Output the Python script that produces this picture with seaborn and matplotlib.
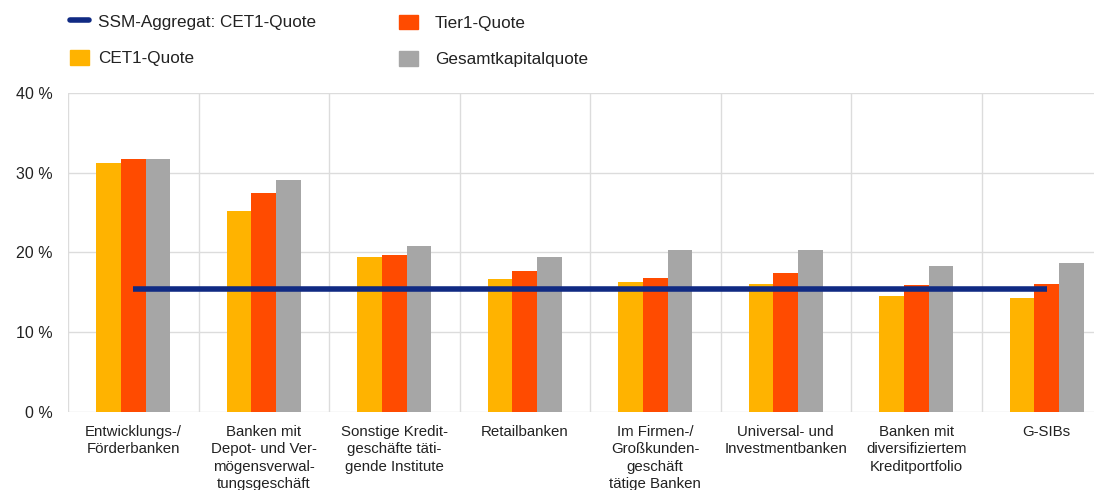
import matplotlib
matplotlib.use("Agg")
import matplotlib.pyplot as plt
from matplotlib.lines import Line2D
from matplotlib.patches import Patch
from matplotlib.ticker import FuncFormatter, MultipleLocator
import pandas as pd
import seaborn as sns

categories = [
    "Entwicklungs-/\nFörderbanken",
    "Banken mit\nDepot- und Ver-\nmögensverwal-\ntungsgeschäft",
    "Sonstige Kredit-\ngeschäfte täti-\ngende Institute",
    "Retailbanken",
    "Im Firmen-/\nGroßkunden-\ngeschäft\ntätige Banken",
    "Universal- und\nInvestmentbanken",
    "Banken mit\ndiversifiziertem\nKreditportfolio",
    "G-SIBs",
]
cet1 = [31.2, 25.2, 19.4, 16.7, 16.3, 16.1, 14.5, 14.3]
tier1 = [31.7, 27.5, 19.7, 17.7, 16.8, 17.4, 15.9, 16.1]
gesamt = [31.7, 29.1, 20.8, 19.4, 20.3, 20.3, 18.3, 18.7]
ssm_cet1 = 15.4

series_names = ["CET1-Quote", "Tier1-Quote", "Gesamtkapitalquote"]
line_name = "SSM-Aggregat: CET1-Quote"
colors = {"CET1-Quote": "#FFB300", "Tier1-Quote": "#FF4B00", "Gesamtkapitalquote": "#A6A6A6"}
line_color = "#102A83"
text_color = "#222222"

df = pd.DataFrame({
    "Kategorie": categories * 3,
    "Quote": [series_names[0]] * 8 + [series_names[1]] * 8 + [series_names[2]] * 8,
    "Wert": cet1 + tier1 + gesamt,
})

sns.set_theme(style="white")
plt.rcParams["font.family"] = ["Liberation Sans", "DejaVu Sans"]

fig = plt.figure(figsize=(10.94, 4.90), dpi=100)
ax = fig.add_axes([68 / 1094, 78 / 490, 1044 / 1094, 319 / 490])

sns.barplot(data=df, x="Kategorie", y="Wert", hue="Quote", hue_order=series_names,
            palette=colors, width=0.57, gap=0, saturation=1, linewidth=0,
            ax=ax, legend=False)

n = len(categories)
ax.plot([0, n - 1], [ssm_cet1, ssm_cet1], color=line_color, lw=4,
        solid_capstyle="butt", zorder=5)

ax.set_xlim(-0.5, n - 0.5)
ax.set_ylim(0, 40)
ax.yaxis.set_major_locator(MultipleLocator(10))
ax.yaxis.set_major_formatter(FuncFormatter(lambda v, p: f"{v:.0f} %"))
ax.set_xticks(range(n))
ax.set_xticklabels(categories, fontsize=10.8, linespacing=1.32, va="top", color=text_color)
ax.set_xticks([i - 0.5 for i in range(n + 1)], minor=True)
ax.tick_params(axis="x", which="both", length=0, pad=9)
ax.tick_params(axis="y", length=0, pad=11, labelsize=11.5, labelcolor=text_color)
ax.grid(False)
ax.grid(axis="y", which="major", color="#DCDCDC", lw=1)
ax.grid(axis="x", which="minor", color="#DCDCDC", lw=1)
ax.set_axisbelow(True)
for s in ax.spines.values():
    s.set_visible(False)
ax.set_xlabel("")
ax.set_ylabel("")

leg_kw = dict(loc="upper left", frameon=False, fontsize=12.3, handlelength=1.1,
              handleheight=0.9, labelspacing=1.2, borderpad=0, borderaxespad=0,
              labelcolor=text_color)
leg1 = fig.legend(
    [Line2D([0], [0], color=line_color, lw=4), Patch(color=colors["CET1-Quote"])],
    [line_name, "CET1-Quote"],
    bbox_to_anchor=(70 / 1094, 1 - 14 / 490), handletextpad=0.55, **leg_kw)
leg2 = fig.legend(
    [Patch(color=colors["Tier1-Quote"]), Patch(color=colors["Gesamtkapitalquote"])],
    ["Tier1-Quote", "Gesamtkapitalquote"],
    bbox_to_anchor=(399 / 1094, 1 - 15 / 490), handletextpad=1.0, **leg_kw)

fig.savefig("out.png", dpi=100)
